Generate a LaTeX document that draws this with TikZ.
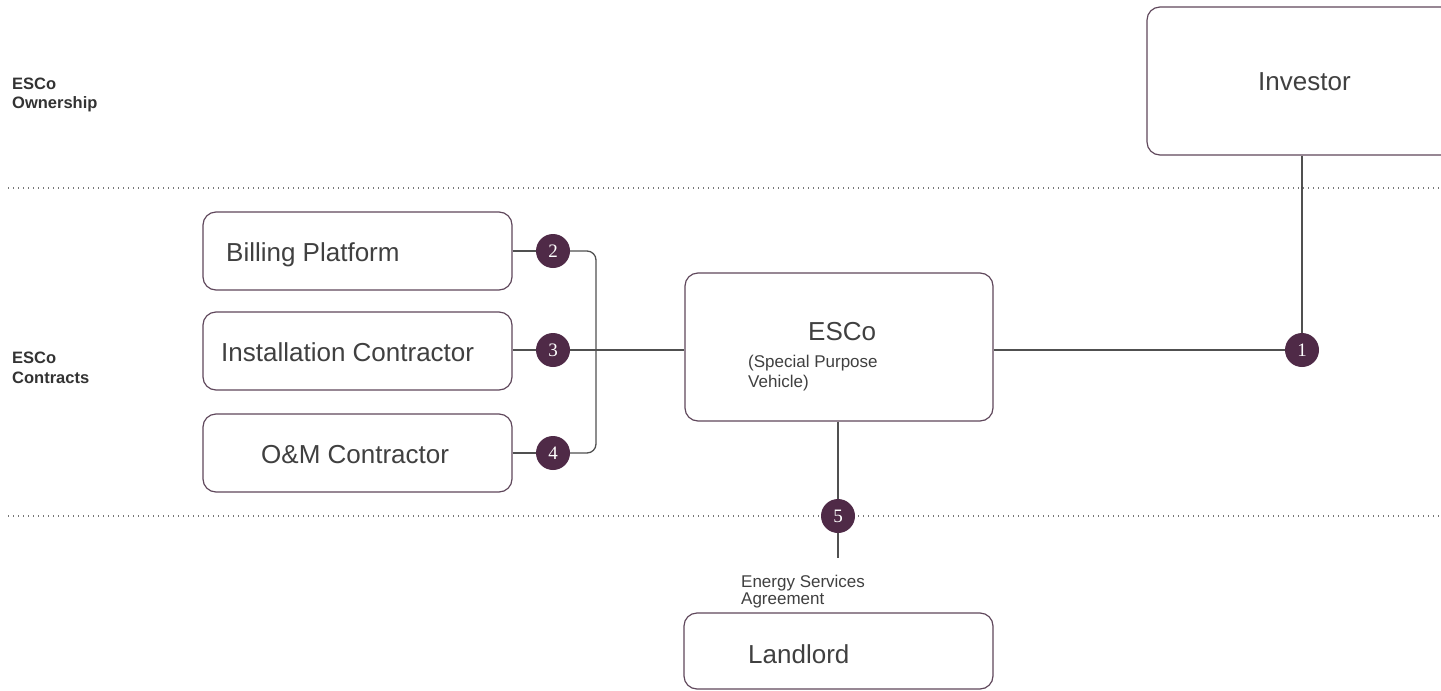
\documentclass[tikz,border=0pt]{standalone}
\usepackage{fontspec}
\setmainfont{Liberation Sans}
\newfontfamily\numfont{Liberation Serif}
\definecolor{boxc}{RGB}{96,72,92}
\definecolor{numc}{RGB}{79,42,71}
\definecolor{linec}{RGB}{80,80,80}
\definecolor{txtc}{RGB}{64,64,64}
\definecolor{labc}{RGB}{51,51,51}
\definecolor{dotc}{RGB}{120,120,120}
\begin{document}
\begin{tikzpicture}[x=1pt,y=-1pt,
  box/.style={draw=boxc, line width=1.2pt, rounded corners=13pt, inner sep=0pt, fill=white},
  num/.style={circle, fill=numc, text=white, minimum size=34pt, inner sep=0pt, font=\numfont\fontsize{19}{19}\selectfont},
  big/.style={anchor=base west, inner sep=0pt, text=txtc, font=\fontsize{26}{30}\selectfont},
  small/.style={anchor=base west, inner sep=0pt, text=txtc, font=\fontsize{17}{20}\selectfont},
  lab/.style={anchor=base west, inner sep=0pt, text=labc, font=\bfseries\fontsize{16.5}{20}\selectfont},
  conn/.style={draw=linec, line width=1.3pt},
  sepline/.style={draw=dotc, line width=1.3pt, dash pattern=on 1.3pt off 3.7pt}]
\useasboundingbox (0,0) rectangle (1441,691);
\clip (0,0) rectangle (1441,691);
\fill[white] (0,0) rectangle (1441,691);

% section separators
\draw[sepline] (8,188) -- (1441,188);
\draw[sepline] (8,516) -- (1441,516);

% section labels
\node[lab] (l1a) at (12,89) {ESCo};
\node[lab] (l1b) at (12,108) {Ownership};
\node[lab] (l2a) at (12,363) {ESCo};
\node[lab] (l2b) at (12,383) {Contracts};

% boxes
\node[box, minimum width=323pt, minimum height=148pt] (inv) at (1308.5,81) {};
\node[box, minimum width=309pt, minimum height=78pt] (bill) at (357.5,251) {};
\node[box, minimum width=309pt, minimum height=78pt] (inst) at (357.5,351) {};
\node[box, minimum width=309pt, minimum height=78pt] (om) at (357.5,453) {};
\node[box, minimum width=308pt, minimum height=148pt] (esco) at (839,347) {};
\node[box, minimum width=309pt, minimum height=76pt] (land) at (838.5,651) {};

% box texts
\node[big] (tinv) at (1258,90) {Investor};
\node[big] (tbill) at (226,261) {Billing Platform};
\node[big] (tinst) at (221,361) {Installation Contractor};
\node[big] (tom) at (261,463) {O\&M Contractor};
\node[big] (tesco) at (808,340) {ESCo};
\node[small] (spv1) at (748,367) {(Special Purpose};
\node[small] (spv2) at (748,387) {Vehicle)};
\node[big] (tland) at (748,663) {Landlord};
\node[small] (esa1) at (741,587) {Energy Services};
\node[small] (esa2) at (741,604) {Agreement};

% numbered circles
\node[num] (c1) at (1302,350) {1};
\node[num] (c2) at (553,251) {2};
\node[num] (c3) at (553,350) {3};
\node[num] (c4) at (553,453) {4};
\node[num] (c5) at (838,516) {5};

% connectors
\coordinate (bt) at (596,251);
\coordinate (bb) at (596,453);
\coordinate (e5) at (838,558);
\draw[conn] (bill.east |- c2) -- (c2);
\draw[conn] (inst.east |- c3) -- (c3);
\draw[conn] (om.east |- c4) -- (c4);
\draw[conn, rounded corners=9pt] (c2) -- (bt) -- (bb) -- (c4);
\draw[conn] (c3) -- (c3 -| esco.west);
\draw[conn] (c1 -| esco.east) -- (c1);
\draw[conn] (inv.south -| c1) -- (c1);
\draw[conn] (esco.south -| c5) -- (c5);
\draw[conn] (c5) -- (e5);
\end{tikzpicture}
\end{document}
